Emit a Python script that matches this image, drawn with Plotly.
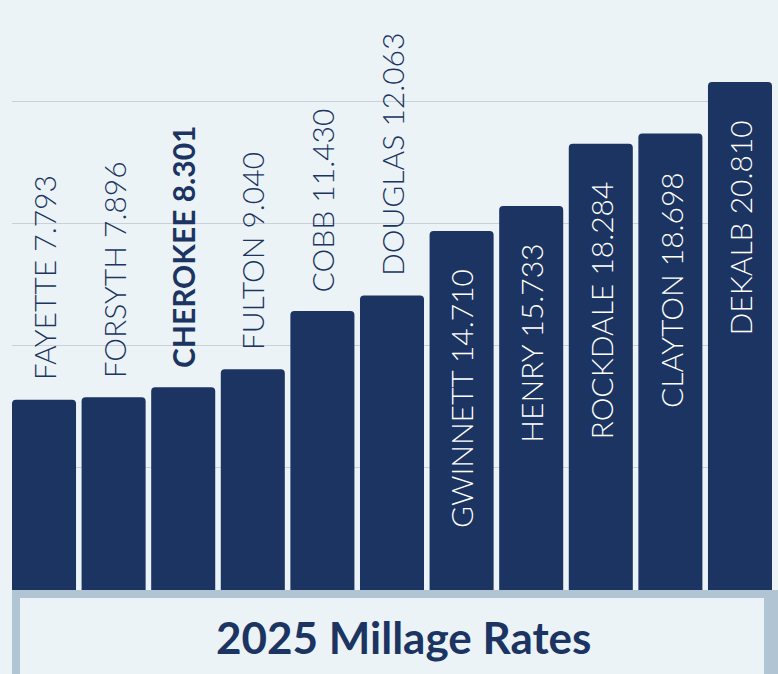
import plotly.graph_objects as go

counties = ["FAYETTE", "FORSYTH", "CHEROKEE", "FULTON", "COBB", "DOUGLAS",
            "GWINNETT", "HENRY", "ROCKDALE", "CLAYTON", "DEKALB"]
rates = [7.793, 7.896, 8.301, 9.040, 11.430, 12.063,
         14.710, 15.733, 18.284, 18.698, 20.810]
highlight = "CHEROKEE"
inside_threshold = 14.0
title_text = "2025 Millage Rates"

NAVY = "#1B3461"
BG = "#EBF3F6"
BORDER = "#B0C4D4"
GRID = "#C9D0DA"
FONT = "Lato"

W, H = 778, 674
L, R, T, B = 12, 6, 0, 84
plot_h = H - T - B
plot_w = W - L - R
px_per_unit = 24.41

fig = go.Figure()
fig.add_trace(go.Bar(
    x=counties, y=rates, marker=dict(color=NAVY, line=dict(width=0)),
    hoverinfo="skip",
))

annotations = []
for name, val in zip(counties, rates):
    label = f"{name} {val:.3f}"
    inside = val > inside_threshold
    bold = name == highlight
    annotations.append(dict(
        x=name, y=val, xref="x", yref="y", text=label, textangle=-90,
        showarrow=False, xanchor="center",
        yanchor="top" if inside else "bottom",
        yshift=-36 if inside else 17,
        font=dict(family=FONT, size=30, weight=700 if bold else 300,
                  color="white" if inside else NAVY),
    ))

# title box
fig.add_shape(type="rect", xref="paper", yref="paper",
              x0=0, x1=(W - L) / plot_w, y0=-(H - plot_h) / plot_h, y1=0,
              fillcolor=BORDER, line=dict(width=0), layer="below")
fig.add_shape(type="rect", xref="paper", yref="paper",
              x0=8 / plot_w, x1=(764 - L) / plot_w,
              y0=-(H + 10 - plot_h) / plot_h, y1=-8 / plot_h,
              fillcolor=BG, line=dict(width=0), layer="below")
annotations.append(dict(
    x=(403 - L) / plot_w, y=-(637 - plot_h) / plot_h, xref="paper", yref="paper",
    text=f"<b>{title_text}</b>", showarrow=False, xanchor="center", yanchor="middle",
    font=dict(family=FONT, size=44, color=NAVY),
))

fig.update_layout(
    width=W, height=H,
    margin=dict(l=L, r=R, t=T, b=B, pad=0),
    paper_bgcolor=BG, plot_bgcolor=BG,
    bargap=0.08, barcornerradius=4,
    showlegend=False,
    annotations=annotations,
    xaxis=dict(range=[-0.46, 10.46], showticklabels=False, showgrid=False,
               zeroline=False, showline=False, ticks=""),
    yaxis=dict(range=[0, plot_h / px_per_unit], tickvals=[5, 10, 15, 20],
               showticklabels=False, showgrid=True, gridcolor=GRID, gridwidth=1,
               zeroline=False, showline=False, ticks=""),
)

fig.write_html(
    "out.html",
    config={"displayModeBar": False},
    post_script="document.body.style.margin='0';document.body.style.background='" + BG + "';",
)
